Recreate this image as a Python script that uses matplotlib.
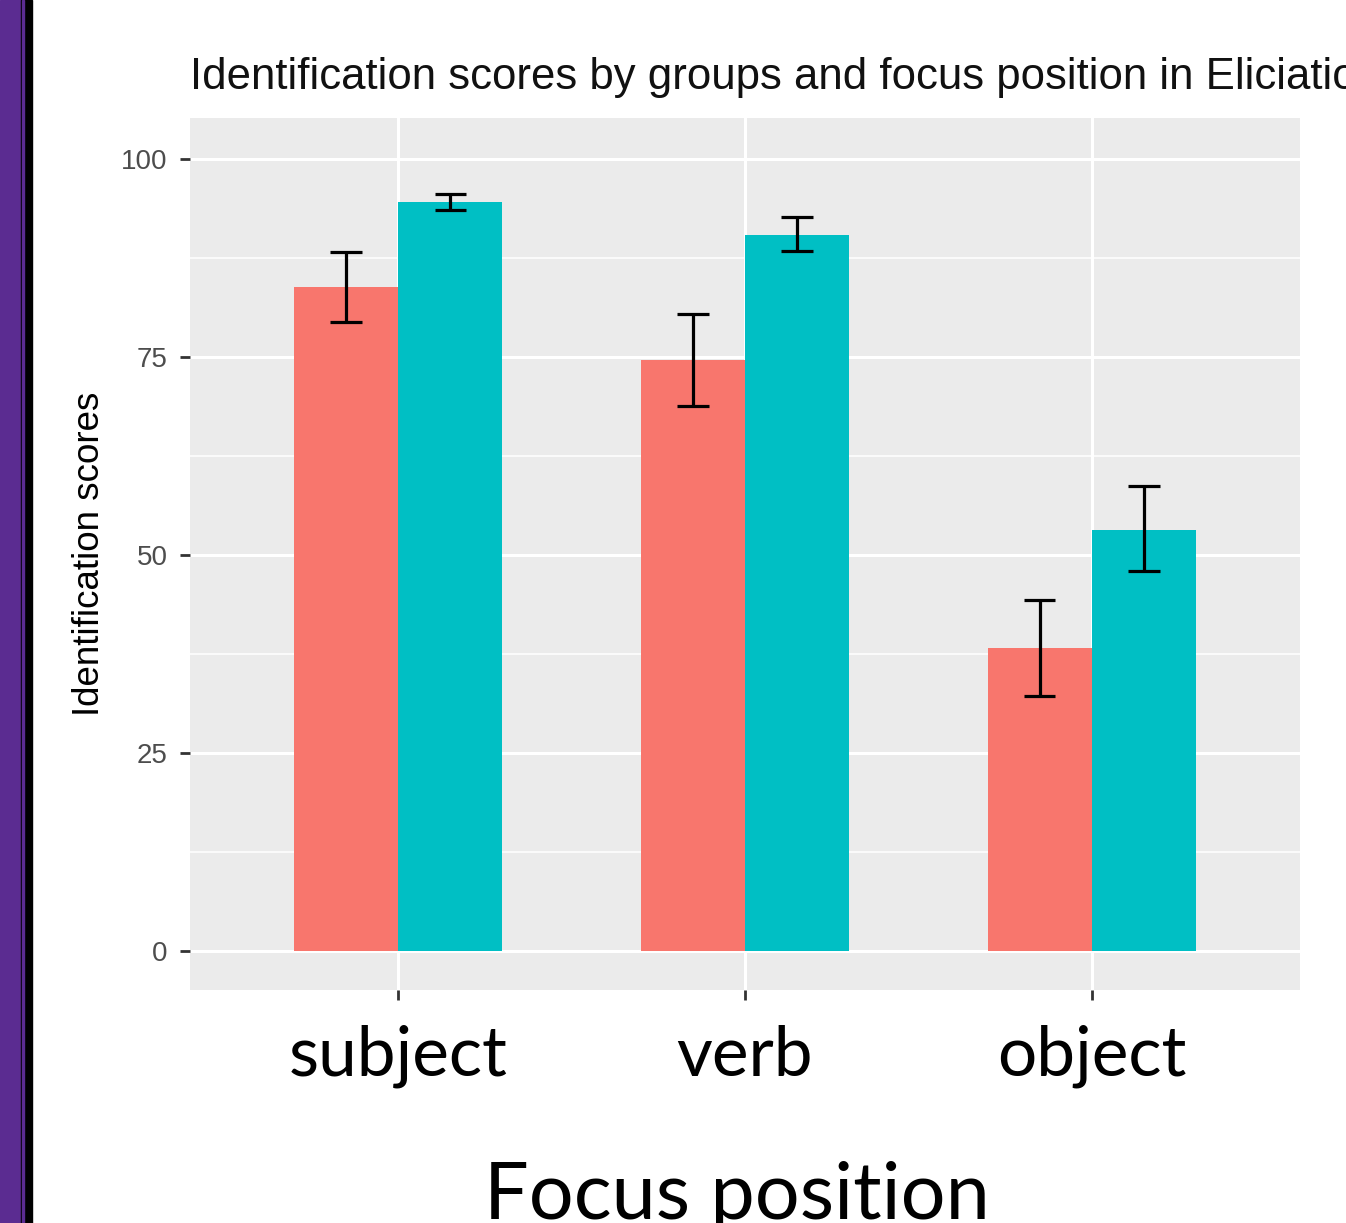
import matplotlib
matplotlib.use("Agg")
import matplotlib.pyplot as plt
from matplotlib.patches import Rectangle
import numpy as np

# Data
positions = ["subject", "verb", "object"]
group_a_means = [83.8, 74.6, 38.3]
group_a_upper = [88.3, 80.4, 44.3]
group_a_lower = [79.5, 68.8, 32.2]
group_b_means = [94.6, 90.4, 53.2]
group_b_upper = [95.6, 92.7, 58.7]
group_b_lower = [93.6, 88.4, 48.0]

RED = "#F8766D"
TEAL = "#00BFC4"

fig = plt.figure(figsize=(13.46, 12.23), dpi=100)
ax = fig.add_axes([190 / 1346, 1 - 990 / 1223, 1110 / 1346, 872 / 1223])

# Slide decoration on the left edge
fig.patches.append(Rectangle((0, 0), 21 / 1346, 1, transform=fig.transFigure,
                             color="#5B2C91", zorder=0))
fig.patches.append(Rectangle((21 / 1346, 0), 11 / 1346, 1, transform=fig.transFigure,
                             color="#000000", zorder=0))
fig.patches.append(Rectangle((22 / 1346, 0), 2 / 1346, 1, transform=fig.transFigure,
                             color="#5B2C91", zorder=1))

x = np.arange(1, len(positions) + 1)
width = 0.3

ax.set_facecolor("#EBEBEB")
ax.bar(x - width / 2, group_a_means, width, color=RED, zorder=2)
ax.bar(x + width / 2, group_b_means, width, color=TEAL, zorder=2)

for means, up, lo, off in [(group_a_means, group_a_upper, group_a_lower, -width / 2),
                           (group_b_means, group_b_upper, group_b_lower, width / 2)]:
    up = np.array(up)
    lo = np.array(lo)
    ax.vlines(x + off, lo, up, color="black", lw=2.3, zorder=3)
    ax.hlines(up, x + off - 0.045, x + off + 0.045, color="black", lw=2.3, zorder=3)
    ax.hlines(lo, x + off - 0.045, x + off + 0.045, color="black", lw=2.3, zorder=3)

ax.set_xlim(0.4, 3.6)
ax.set_ylim(-4.9, 105.2)

ax.set_yticks([0, 25, 50, 75, 100])
ax.set_yticks([12.5, 37.5, 62.5, 87.5], minor=True)
ax.set_xticks(x)
ax.set_xticklabels(positions, fontsize=50, color="black", family="Lato")
ax.grid(which="major", color="white", lw=2.2, zorder=1)
ax.grid(which="minor", axis="y", color="white", lw=1.1, zorder=1)
ax.set_axisbelow(True)

ax.tick_params(axis="y", which="major", length=7, width=2, color="#333333",
               labelsize=20, labelcolor="#4D4D4D", pad=9)
ax.tick_params(axis="x", which="major", length=7, width=2, color="#333333", pad=18)
ax.tick_params(which="minor", length=0)
for lab in ax.get_yticklabels():
    lab.set_family("Liberation Sans")

for s in ax.spines.values():
    s.set_visible(False)

ax.set_ylabel("Identification scores", fontsize=26.5, family="Liberation Sans",
              color="black", labelpad=10)
fig.text(190 / 1346, 1 - 89 / 1223,
         "Identification scores by groups and focus position in Eliciatio",
         fontsize=31.5, family="Liberation Sans", color="#111111", ha="left",
         va="baseline")
fig.text(737 / 1346, 1 - 1219 / 1223, "Focus position", fontsize=57, family="Lato",
         color="black", ha="center", va="baseline")

fig.savefig("out.png", dpi=100, facecolor="white")
